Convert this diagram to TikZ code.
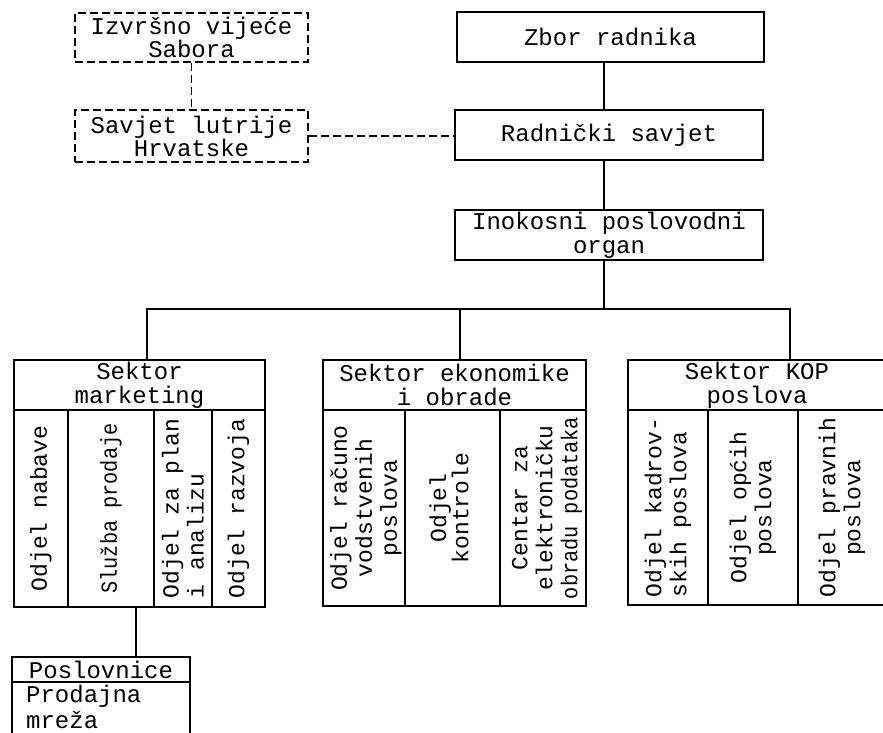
\documentclass[tikz,border=0pt]{standalone}
\usepackage{fontspec}
\setmainfont{Liberation Mono}
\usepackage{graphicx}
\begin{document}
\begin{tikzpicture}[x=1pt,y=-1pt,
  box/.style={draw, line width=1.2pt, inner sep=0pt, align=center, font=\fontsize{24}{24}\selectfont},
  dbox/.style={box, line width=1.4pt, dash pattern=on 8pt off 4pt, font=\fontsize{24}{23}\selectfont},
  cell/.style={draw, line width=1.2pt, inner sep=0pt},
  vtext/.style={rotate=90, align=center, inner sep=0pt, font=\fontsize{23}{25}\selectfont},
  conn/.style={line width=1.2pt},
  dconn/.style={line width=1.4pt, dash pattern=on 8pt off 4pt}]
\useasboundingbox (0,0) rectangle (883,732);
\fill[white] (0,0) rectangle (883,732);
\clip (0,0) rectangle (883,732);

% top dashed boxes
\node[dbox, minimum width=233pt, minimum height=49pt] (izv) at (191.5,37.5) {Izvršno vijeće\\Sabora};
\node[dbox, minimum width=233pt, minimum height=52pt] (sav) at (191.5,136) {Savjet lutrije\\Hrvatske};

% main chain
\node[box, minimum width=307pt, minimum height=50pt] (zbor) at (610.5,37) {Zbor radnika};
\node[box, minimum width=308pt, minimum height=50pt] (rad) at (609,135) {Radnički savjet};
\node[box, minimum width=308pt, minimum height=50pt] (ino) at (609,235) {Inokosni poslovodni\\organ};

% sector marketing
\node[box, minimum width=251pt, minimum height=50pt] (mkt) at (139.5,385) {Sektor\\marketing};
\node[cell, minimum width=54pt, minimum height=197pt] (mk1) at (41,508.5) {};
\node[cell, minimum width=86pt, minimum height=197pt] (mk2) at (111,508.5) {};
\node[cell, minimum width=58pt, minimum height=197pt] (mk3) at (183,508.5) {};
\node[cell, minimum width=53pt, minimum height=197pt] (mk4) at (238.5,508.5) {};
\node[vtext] (mk1t) at (mk1) {Odjel nabave};
\node[vtext] (mk2t) at (mk2) {\scalebox{0.88}[1]{Služba prodaje}};
\node[vtext, align=left] (mk3t) at (mk3) {Odjel za plan\\i analizu};
\node[vtext] (mk4t) at (mk4) {Odjel razvoja};

% sector ekonomike
\node[box, minimum width=263pt, minimum height=50pt] (ek) at (454.5,385) {Sektor ekonomike\\i obrade};
\node[cell, minimum width=82pt, minimum height=196pt] (ek1) at (364,508) {};
\node[cell, minimum width=95pt, minimum height=196pt] (ek2) at (452.5,508) {};
\node[cell, minimum width=86pt, minimum height=196pt] (ek3) at (543,508) {};
\node[vtext] (ek1t) at (366,508) {Odjel računo\\vodstvenih\\poslova};
\node[vtext, font=\fontsize{23}{21}\selectfont] (ek2t) at (449,508) {Odjel\\kontrole};
\node[vtext] (ek3t) at (547,508) {Centar za\\elektroničku\\\scalebox{0.88}[1]{obradu podataka}};

% sector KOP
\node[box, minimum width=258pt, minimum height=50pt] (kop) at (757,385) {Sektor KOP\\poslova};
\node[cell, minimum width=80pt, minimum height=195pt] (kop1) at (668,507.5) {};
\node[cell, minimum width=90pt, minimum height=195pt] (kop2) at (753,507.5) {};
\node[cell, minimum width=88pt, minimum height=195pt] (kop3) at (842,507.5) {};
\node[vtext, align=left] (kop1t) at (kop1) {Odjel kadrov-\\skih poslova};
\node[vtext] (kop2t) at (kop2) {Odjel općih\\poslova};
\node[vtext] (kop3t) at (kop3) {Odjel pravnih\\poslova};

% Poslovnice
\node[box, minimum width=178pt, minimum height=25pt] (pos1) at (101,669.5) {Poslovnice};
\node[cell, minimum width=178pt, minimum height=54pt] (pos2) at (101,709) {};
\node[anchor=north west, align=left, inner sep=0pt, font=\fontsize{24}{26}\selectfont] (pos2t) at (26,685) {Prodajna\\mreža};

% coordinates
\coordinate (tx) at (604,0);
\coordinate (bus) at (604,309);
\coordinate (mx) at (147,0);
\coordinate (ex) at (460,0);
\coordinate (kx) at (790,0);
\coordinate (px) at (136,0);

% connectors
\draw[dconn] (izv) -- (sav);
\draw[dconn] (sav.east) -- (sav.east -| rad.west);
\draw[conn] (zbor.south -| tx) -- (rad.north -| tx);
\draw[conn] (rad.south -| tx) -- (ino.north -| tx);
\draw[conn] (ino.south -| tx) -- (bus);
\draw[conn] (mkt.north -| mx) |- (bus) -| (kop.north -| kx);
\draw[conn] (bus -| ex) -- (ek.north -| ex);
\draw[conn] (mk2.south -| px) -- (pos1.north -| px);
\end{tikzpicture}
\end{document}
